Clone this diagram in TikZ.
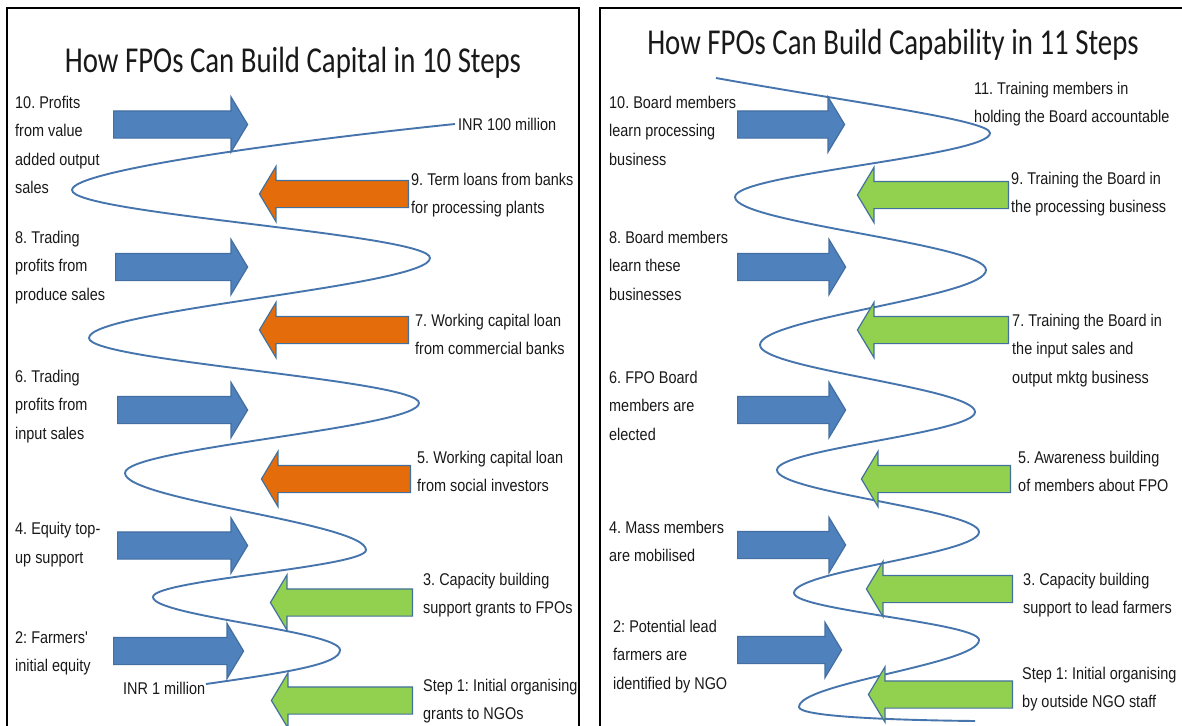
\documentclass[tikz,border=0pt]{standalone}
\usepackage{fontspec}
\usepackage{xcolor}
\usepackage{tikz}
\usetikzlibrary{shapes.arrows}

\newfontfamily\labelfont{Liberation Sans}[FakeStretch=0.85]
\newfontfamily\headfont{Carlito}[FakeStretch=0.79]
\frenchspacing

\definecolor{fpoblue}{HTML}{4F81BD}
\definecolor{fpoorange}{HTML}{E46C0A}
\definecolor{fpogreen}{HTML}{92D050}
\definecolor{arrowedge}{HTML}{41719C}
\definecolor{wavecol}{HTML}{4674AC}

\begin{document}
\begin{tikzpicture}[x=1pt, y=-1pt,
    blk/.style={single arrow, draw=arrowedge, line width=1.2pt,
      inner xsep=0pt, inner ysep=13pt, single arrow head extend=14pt,
      single arrow tip angle=118, anchor=tail},
    inflow/.style={blk, fill=fpoblue, draw=fpoblue!85!black},
    loan/.style={blk, fill=fpoorange, shape border rotate=180},
    grant/.style={blk, fill=fpogreen, shape border rotate=180},
    lbl/.style={font=\labelfont\fontsize{17}{28.5}\selectfont, text=black!90,
      align=left, anchor=north west, inner sep=0pt},
    heading/.style={font=\headfont\fontsize{36.5}{40}\selectfont, text=black!90,
      anchor=base, inner sep=0pt},
    wave/.style={draw=wavecol, line width=1.9pt},
    frame/.style={line width=2.5pt}]
  \useasboundingbox (0,0) rectangle (1182,725);

  % panel frames
  \draw[frame] (7,740) -- (7,8) -- (579,8) -- (579,740);
  \draw[frame] (600,740) -- (600,8) -- (1190,8);

  % ---------------- capital ----------------
  \node[heading] (capttl) at (293,72) {How FPOs Can Build Capital in 10 Steps};

  \draw[wave] (455,124) .. controls (300,140) and (72,170) .. (72,190)
    .. controls +(0,24) and +(0,-24) .. (430,258)
    .. controls +(0,28) and +(0,-28) .. (89,338)
    .. controls +(0,23) and +(0,-23) .. (419,403)
    .. controls +(0,25) and +(0,-25) .. (125,473)
    .. controls +(0,27) and +(0,-27) .. (366,550)
    .. controls +(0,17) and +(0,-17) .. (153,597)
    .. controls +(0,19) and +(0,-19) .. (340,650)
    .. controls (340,664) and (290,672) .. (206,684);

  \node[inflow, minimum height=134pt] (c10) at (113,124.5) {};
  \node[inflow, minimum height=132pt] (c8) at (115,267) {};
  \node[inflow, minimum height=130pt] (c6) at (117,410) {};
  \node[inflow, minimum height=130pt] (c4) at (117,545.5) {};
  \node[inflow, minimum height=130pt] (c2) at (113,651) {};
  \node[loan, minimum height=149pt] (c9) at (409,194) {};
  \node[loan, minimum height=149pt] (c7) at (409,330) {};
  \node[loan, minimum height=149pt] (c5) at (411,479) {};
  \node[grant, minimum height=142pt] (c3) at (413,602.5) {};
  \node[grant, minimum height=141pt] (c1) at (413,700.5) {};

  \node[lbl] (c10txt) at (15,95.5) {10. Profits\\from value\\added output\\sales};
  \node[lbl] (c8txt) at (15,230.5) {8. Trading\\profits from\\produce sales};
  \node[lbl] (c6txt) at (15,369.5) {6. Trading\\profits from\\input sales};
  \node[lbl] (c4txt) at (15,522) {4. Equity top-\\up support};
  \node[lbl] (c2txt) at (15,631) {2: Farmers'\\initial equity};
  \node[lbl] (c9txt) at (411,172.5) {9. Term loans from banks\\for processing plants};
  \node[lbl] (c7txt) at (415,313.5) {7. Working capital loan\\from commercial banks};
  \node[lbl] (c5txt) at (417,450.5) {5. Working capital loan\\from social investors};
  \node[lbl] (c3txt) at (423,572.5) {3. Capacity building\\support grants to FPOs};
  \node[lbl] (c1txt) at (423,678.5) {Step 1: Initial organising\\grants to NGOs};
  \node[lbl] (inrtop) at (458,118) {INR 100 million};
  \node[lbl] (inrlow) at (123,681.5) {INR 1 million};

  % ---------------- capability ----------------
  \node[heading] (capbttl) at (893,55) {How FPOs Can Build Capability in 11 Steps};

  \draw[wave] (716,78) .. controls (849,102) and (990,120) .. (990,133)
    .. controls +(0,23) and +(0,-23) .. (735,197)
    .. controls +(0,26) and +(0,-26) .. (986,270)
    .. controls +(0,27) and +(0,-27) .. (760,345)
    .. controls +(0,24) and +(0,-24) .. (975,412)
    .. controls +(0,21) and +(0,-21) .. (777,470)
    .. controls +(0,22) and +(0,-22) .. (979,532)
    .. controls +(0,22) and +(0,-22) .. (794,593)
    .. controls +(0,17) and +(0,-17) .. (979,640)
    .. controls +(0,24) and +(0,-24) .. (799,707)
    .. controls (799,716) and (880,720) .. (975,721);

  \node[inflow, minimum height=107pt] (k10) at (737,124.5) {};
  \node[inflow, minimum height=108pt] (k8) at (737,267) {};
  \node[inflow, minimum height=108pt] (k6) at (737,410) {};
  \node[inflow, minimum height=108pt] (k4) at (737,545) {};
  \node[inflow, minimum height=104pt] (k2) at (737,650) {};
  \node[grant, minimum height=151pt] (k9) at (1009,195) {};
  \node[grant, minimum height=151pt] (k7) at (1009,330) {};
  \node[grant, minimum height=149pt] (k5) at (1011,479) {};
  \node[grant, minimum height=146pt] (k3) at (1013,589) {};
  \node[grant, minimum height=144pt] (k1) at (1013,694.5) {};

  \node[lbl] (k10txt) at (609,95.5) {10. Board members\\learn processing\\business};
  \node[lbl] (k8txt) at (609,230.5) {8. Board members\\learn these\\businesses};
  \node[lbl] (k6txt) at (609,370.5) {6. FPO Board\\members are\\elected};
  \node[lbl] (k4txt) at (609,520.5) {4. Mass members\\are mobilised};
  \node[lbl] (k2txt) at (613,619.5) {2: Potential lead\\farmers are\\identified by NGO};
  \node[lbl] (k11txt) at (974,81.5) {11. Training members in\\holding the Board accountable};
  \node[lbl] (k9txt) at (1011,171.5) {9. Training the Board in\\the processing business};
  \node[lbl] (k7txt) at (1012,313.5) {7. Training the Board in\\the input sales and\\output mktg business};
  \node[lbl] (k5txt) at (1018,450.5) {5. Awareness building\\of members about FPO};
  \node[lbl] (k3txt) at (1023,572.5) {3. Capacity building\\support to lead farmers};
  \node[lbl] (k1txt) at (1022,666.5) {Step 1: Initial organising\\by outside NGO staff};
\end{tikzpicture}
\end{document}
